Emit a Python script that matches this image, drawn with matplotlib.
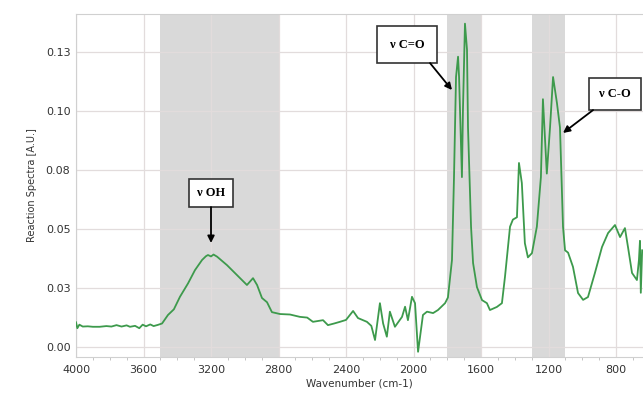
import matplotlib
matplotlib.use("Agg")
import matplotlib.pyplot as plt
from matplotlib.ticker import FixedLocator, MultipleLocator

# Spectrum (wavenumber cm-1, absorbance A.U.)
wavenumber = [4000, 3992, 3980, 3960, 3930, 3900, 3860, 3820, 3790, 3760, 3730, 3700,
              3680, 3650, 3625, 3605, 3585, 3560, 3540, 3515, 3490, 3455, 3420, 3384,
              3336, 3295, 3253, 3230, 3218, 3200, 3185, 3164, 3105, 3046, 2987, 2951,
              2927, 2898, 2868, 2839, 2791, 2732, 2673, 2630, 2596, 2536, 2507, 2470,
              2436, 2400, 2358, 2329, 2276, 2250, 2228, 2199, 2180, 2158, 2140, 2110,
              2068, 2050, 2033, 2009, 1991, 1973, 1944, 1920, 1884, 1855, 1813, 1796,
              1772, 1760, 1748, 1736, 1730, 1713, 1707, 1695, 1683, 1677, 1659, 1647,
              1624, 1594, 1565, 1547, 1506, 1476, 1458, 1428, 1411, 1387, 1375, 1358,
              1340, 1322, 1298, 1269, 1245, 1233, 1210, 1191, 1173, 1150, 1132, 1114,
              1102, 1084, 1055, 1025, 995, 966, 925, 883, 847, 806, 776, 747, 729, 705,
              676, 664, 658, 653, 645]
absorbance = [0.0105, 0.0080, 0.0095, 0.0087, 0.0088, 0.0086, 0.0086, 0.0089, 0.0087,
              0.0093, 0.0087, 0.0092, 0.0086, 0.0090, 0.0080, 0.0095, 0.0088, 0.0096,
              0.0089, 0.0094, 0.0100, 0.0136, 0.0160, 0.0213, 0.0270, 0.0326, 0.0369,
              0.0385, 0.0390, 0.0384, 0.0392, 0.0383, 0.0347, 0.0305, 0.0263, 0.0292,
              0.0263, 0.0208, 0.0190, 0.0148, 0.0140, 0.0138, 0.0128, 0.0125, 0.0107,
              0.0114, 0.0093, 0.0100, 0.0107, 0.0115, 0.0153, 0.0123, 0.0107, 0.0090,
              0.0030, 0.0186, 0.0100, 0.0044, 0.0150, 0.0086, 0.0128, 0.0171, 0.0114,
              0.0213, 0.0186, -0.0020, 0.0136, 0.0150, 0.0144, 0.0157, 0.0186, 0.0210,
              0.0369, 0.0720, 0.1144, 0.1230, 0.1144, 0.0720, 0.1004, 0.1370, 0.1260,
              0.0930, 0.0510, 0.0356, 0.0254, 0.0199, 0.0186, 0.0157, 0.0170, 0.0186,
              0.0297, 0.0510, 0.0540, 0.0550, 0.0780, 0.0695, 0.0440, 0.0380, 0.0398,
              0.0510, 0.0720, 0.1050, 0.0735, 0.0930, 0.1144, 0.1034, 0.0930, 0.0510,
              0.0410, 0.0400, 0.0340, 0.0229, 0.0200, 0.0212, 0.0314, 0.0424, 0.0483,
              0.0517, 0.0466, 0.0504, 0.0424, 0.0314, 0.0284, 0.0370, 0.0450, 0.0230,
              0.0410]

# Shaded bands (cm-1)
band_starts = [3500, 1800, 1300]
band_ends = [2800, 1600, 1100]

# Annotations
ann_labels = ["ν OH", "ν C=O", "ν C-O"]
ann_text_xy = [(3200, 0.0653), (2038, 0.1280), (806, 0.1074)]
ann_tail_xy = [(3200, 0.0593), (1902, 0.1203), (936, 0.1004)]
ann_head_xy = [(3200, 0.0441), (1772, 0.1089), (1114, 0.0907)]
ann_pads = [0.65, 1.0, 0.8]

y_ticks = [0.0, 0.025, 0.05, 0.075, 0.10, 0.125]
y_tick_labels = ["0.00", "0.03", "0.05", "0.08", "0.10", "0.13"]
x_ticks = [4000, 3600, 3200, 2800, 2400, 2000, 1600, 1200, 800]

fig = plt.figure(figsize=(6.43, 3.95), dpi=100)
ax = fig.add_axes([0.1182, 0.0962, 0.8818, 0.8684])

for s, e in zip(band_starts, band_ends):
    ax.axvspan(e, s, color="#d9d9d9", zorder=0, lw=0)

ax.set_xlim(4000, 640)
ax.set_ylim(-0.0042, 0.1411)
ax.xaxis.set_major_locator(FixedLocator(x_ticks))
ax.xaxis.set_minor_locator(MultipleLocator(100))
ax.set_yticks(y_ticks)
ax.set_yticklabels(y_tick_labels)
ax.grid(True, which="major", color="#e2dcdc", lw=0.9, zorder=1)
ax.set_axisbelow(True)

ax.plot(wavenumber, absorbance, color="#3d9a4c", lw=1.3, zorder=3)

for sp in ["top", "left", "bottom"]:
    ax.spines[sp].set_color("#d0d0d0")
ax.spines["right"].set_visible(False)
ax.tick_params(axis="both", which="major", length=0, labelsize=8, colors="#333333", pad=4)
ax.tick_params(axis="x", which="minor", length=2, color="#bbbbbb")
ax.tick_params(axis="x", which="major", pad=6)

ax.set_xlabel("Wavenumber (cm-1)", fontsize=7.5, color="#333333", labelpad=2)
ax.set_ylabel("Reaction Spectra [A.U.]", fontsize=7, color="#333333", labelpad=6)

for lab, txy, tail, head, pad in zip(ann_labels, ann_text_xy, ann_tail_xy, ann_head_xy, ann_pads):
    ax.text(txy[0], txy[1], lab, ha="center", va="center", fontsize=9,
            fontweight="bold", family="Liberation Serif", zorder=5,
            bbox=dict(boxstyle=f"square,pad={pad}", fc="white", ec="#333333", lw=1.2))
    ax.annotate("", xy=head, xytext=tail,
                arrowprops=dict(arrowstyle="-|>", color="black", lw=1.3,
                                mutation_scale=10, shrinkA=0, shrinkB=0), zorder=5)

fig.savefig("out.png", dpi=100)
